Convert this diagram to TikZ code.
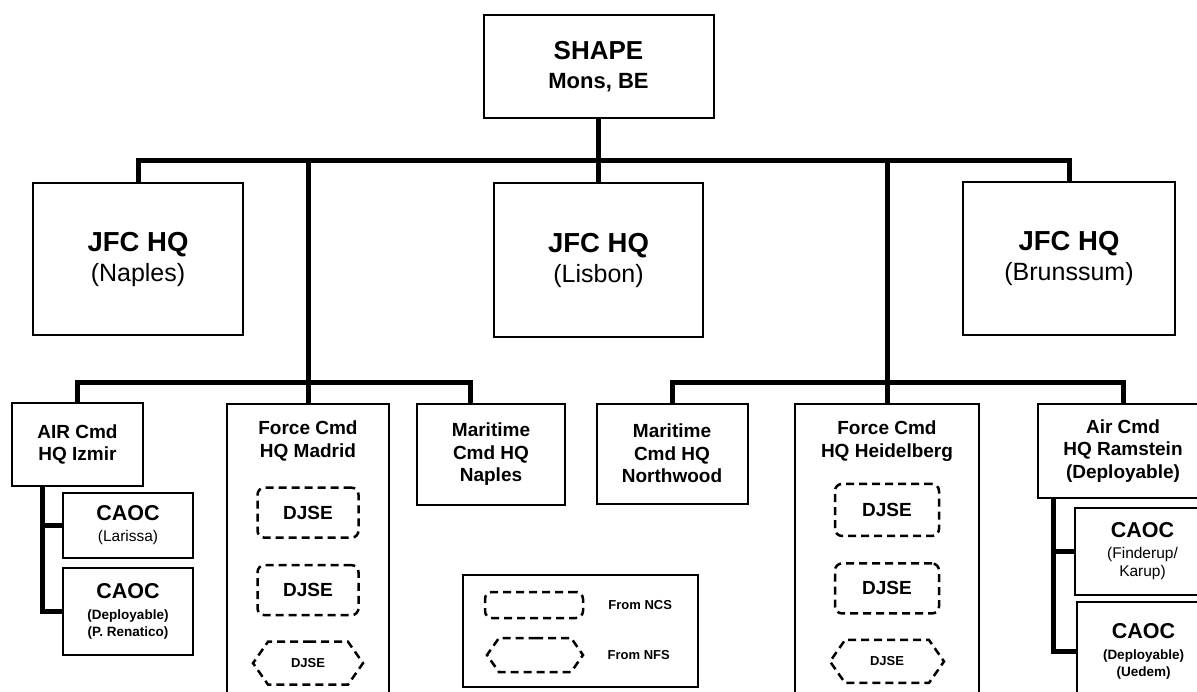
\documentclass[tikz,border=0pt]{standalone}
\usepackage{fontspec}
\setmainfont{Liberation Sans}
\usetikzlibrary{positioning, shapes.symbols}
\newcommand{\unitnote}{\fontsize{13.5}{16}\selectfont}
\newcommand{\sitenote}{\mdseries\fontsize{15.5}{17}\selectfont}
\tikzset{
    hqbox/.style={rectangle, draw=black, line width=2pt, fill=white, align=center, inner sep=0pt},
    shapebox/.style={hqbox, font=\bfseries\fontsize{26}{29}\selectfont},
    jfcbox/.style={hqbox, font=\fontsize{25}{30}\selectfont},
    cmdbox/.style={hqbox, font=\bfseries\fontsize{19}{22.5}\selectfont},
    caocbox/.style={hqbox, font=\bfseries\fontsize{21.5}{21}\selectfont},
    cmdtitle/.style={align=center, inner sep=0pt, font=\bfseries\fontsize{19}{22.5}\selectfont},
    ncsunit/.style={rectangle, rounded corners=7pt, draw=black, line width=2.5pt, dash pattern=on 8pt off 5pt, inner sep=0pt, font=\bfseries\fontsize{19}{20}\selectfont},
    nfsunit/.style={signal, signal to=west and east, signal pointer angle=110, draw=black, line width=2.5pt, dash pattern=on 8pt off 5pt, inner sep=0pt, font=\bfseries\fontsize{13}{14}\selectfont},
    keytext/.style={inner sep=0pt, font=\bfseries\fontsize{13}{14}\selectfont},
    link/.style={line width=5pt}
}

\begin{document}
\begin{tikzpicture}[x=1pt, y=-1pt]
    \useasboundingbox[fill=white] (0,0) rectangle (1197,691);
    \clip (0,0) rectangle (1197,691);

    % top levels
    \node (shape) [shapebox, minimum width=230pt, minimum height=103pt] at (598.5,66.5) {SHAPE\\\fontsize{22}{25}\selectfont Mons, BE};
    \node (naples) [jfcbox, minimum width=210pt, minimum height=152pt] at (138,259) {\bfseries\fontsize{27.5}{30}\selectfont JFC HQ\\(Naples)};
    \node (lisbon) [jfcbox, minimum width=209pt, minimum height=154pt] at (598.5,260) {\bfseries\fontsize{27.5}{30}\selectfont JFC HQ\\(Lisbon)};
    \node (brunssum) [jfcbox, minimum width=212pt, minimum height=153pt] at (1069,258.5) {\bfseries\fontsize{27.5}{30}\selectfont JFC HQ\\(Brunssum)};
    \coordinate (bar) at (0,160);
    \coordinate (subbar) at (0,382);

    % naples side
    \node (airizmir) [cmdbox, minimum width=131pt, minimum height=83pt] at (77.5,444.5) {AIR Cmd\\HQ Izmir};
    \node (larissa) [caocbox, minimum width=130pt, minimum height=65pt] at (128,525.5) {CAOC\\\sitenote (Larissa)};
    \node (caocdep) [caocbox, minimum width=130pt, minimum height=87pt] at (128,611.5) {CAOC\\\unitnote (Deployable)\\[-4pt]\unitnote (P. Renatico)};
    \node (madrid) [hqbox, minimum width=162pt, minimum height=296pt] at (308,552) {};
    \node (madridtxt) [cmdtitle, below=18pt of madrid.north] {Force Cmd\\HQ Madrid};
    \node (madrid1) [ncsunit, minimum width=101pt, minimum height=50pt, below=25pt of madridtxt] {DJSE};
    \node (madrid2) [ncsunit, minimum width=101pt, minimum height=50pt, below=25pt of madrid1] {DJSE};
    \node (madrid3) [nfsunit, minimum width=110pt, minimum height=43pt, below=24pt of madrid2] {DJSE};
    \node (mnaples) [cmdbox, minimum width=148pt, minimum height=101pt] at (491,454.5) {Maritime\\Cmd HQ\\Naples};

    % brunssum side
    \node (northwood) [cmdbox, minimum width=151pt, minimum height=100pt] at (672,453.5) {Maritime\\Cmd HQ\\Northwood};
    \node (heidel) [hqbox, minimum width=184pt, minimum height=296pt] at (887,552) {};
    \node (heideltxt) [cmdtitle, below=18pt of heidel.north] {Force Cmd\\HQ Heidelberg};
    \node (heidel1) [ncsunit, minimum width=104pt, minimum height=52pt, below=21pt of heideltxt] {DJSE};
    \node (heidel2) [ncsunit, minimum width=104pt, minimum height=50pt, below=25pt of heidel1] {DJSE};
    \node (heidel3) [nfsunit, minimum width=114pt, minimum height=43pt, below=24pt of heidel2] {DJSE};
    \node (ramstein) [cmdbox, minimum width=170pt, minimum height=94pt] at (1123,451) {Air Cmd\\HQ Ramstein\\(Deployable)};
    \node (finderup) [caocbox, minimum width=135pt, minimum height=87pt] at (1142.5,551.5) {CAOC\\\sitenote (Finderup/\\[-3pt]\sitenote Karup)};
    \node (uedem) [caocbox, minimum width=133pt, minimum height=98pt] at (1143.5,651) {CAOC\\\unitnote (Deployable)\\[-4pt]\unitnote (Uedem)};

    % key
    \node (key) [hqbox, minimum width=235pt, minimum height=112pt] at (580.5,631) {};
    \node (ncskey) [ncsunit, minimum width=98pt, minimum height=26pt] at (534,605) {};
    \node (nfskey) [nfsunit, minimum width=96pt, minimum height=34pt] at (535,655) {};
    \node (ncstxt) [keytext, right=24pt of ncskey] {From NCS};
    \node (nfstxt) [keytext, right=23pt of nfskey] {From NFS};

    % links
    \draw [link] (shape) -- (lisbon);
    \draw [link] (naples.north) -- (naples.north |- bar) -- (brunssum.north |- bar) -- (brunssum.north);
    \draw [link] (madrid.north) -- (madrid.north |- bar);
    \draw [link] (heidel.north) -- (heidel.north |- bar);
    \draw [link] (airizmir.north) -- (airizmir.north |- subbar) -| ([xshift=-21pt]mnaples.north);
    \draw [link] (northwood.north) -- (northwood.north |- subbar) -| (ramstein.north);
    \draw [link] ([xshift=31pt]airizmir.south west) |- (larissa.west);
    \draw [link] ([xshift=31pt]airizmir.south west) |- (caocdep.west);
    \draw [link] ([xshift=16pt]ramstein.south west) |- (finderup.west);
    \draw [link] ([xshift=16pt]ramstein.south west) |- (uedem.west);
\end{tikzpicture}
\end{document}
